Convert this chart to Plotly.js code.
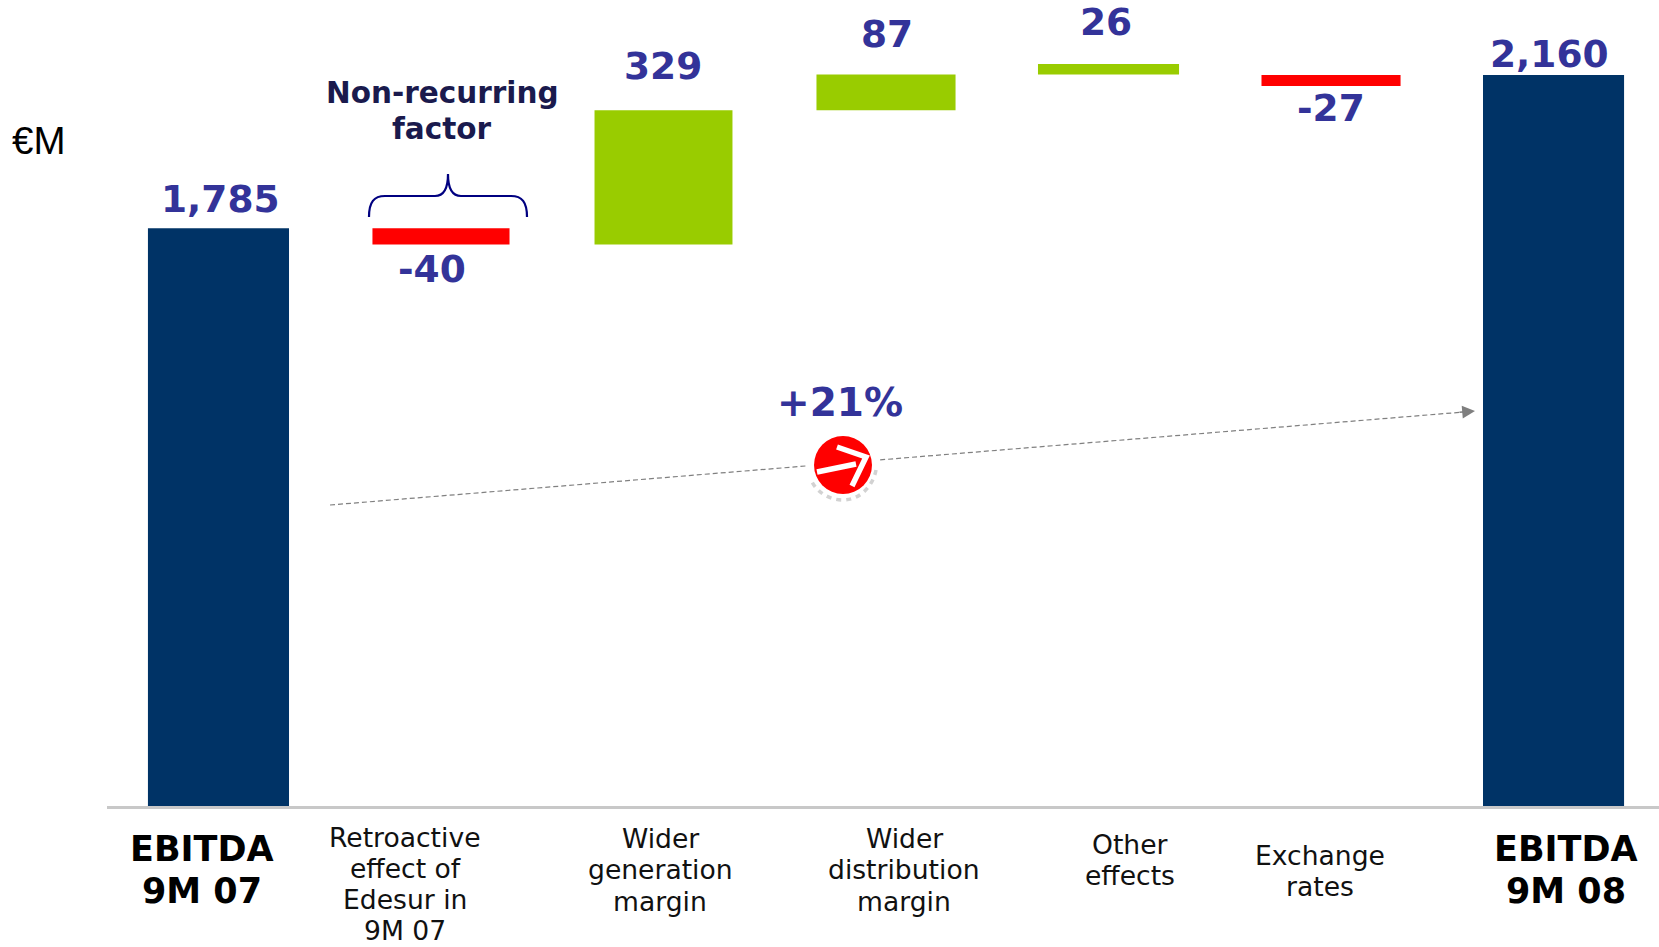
<!DOCTYPE html>
<html><head><meta charset="utf-8">
<script src="https://cdn.plot.ly/plotly-3.0.1.min.js"></script>
<style>html,body{margin:0;padding:0;background:#fff;overflow:hidden}</style>
</head><body><div id="chart" style="width:1659px;height:947px"></div>
<script>
// ---- data ----
const categories = ["EBITDA 9M 07","Retroactive effect of Edesur in 9M 07","Wider generation margin","Wider distribution margin","Other effects","Exchange rates","EBITDA 9M 08"];
const values = [1785,-40,329,87,26,-27,2160];
const bases = [0,1785,1745,2074,2161,2160,0];
const barColors = ["#003366","#FF0000","#99CC00","#99CC00","#99CC00","#FF0000","#003366"];
const valueLabels = ["1,785","-40","329","87","26","-27","2,160"];
const tickLines = [["EBITDA","9M 07"],["Retroactive","effect of","Edesur in","9M 07"],["Wider","generation","margin"],["Wider","distribution","margin"],["Other","effects"],["Exchange","rates"],["EBITDA","9M 08"]];
const growth = "+21%";
const unit = "€M";
const noteLines = ["Non-recurring","factor"];

// ---- placement in page pixels ----
const W = 1659, H = 947;
const px = x => x / W, py = y => 1 - y / H;
const valuePos = [[220,199],[432,269],[663,66],[887,34],[1106,22],[1331,108],[1549,54]];
const tickPos = [[202,849],[405,837],[660,838],[904,838],[1130,844],[1320,855],[1566,849]];
const FONT = "DejaVu Sans, Verdana, sans-serif";
const ann = (text,x,y,font) => ({text,x:px(x),y:py(y),xref:"paper",yref:"paper",xanchor:"center",yanchor:"middle",showarrow:false,font,align:"center"});
const annotations = [];
valueLabels.forEach((t,i)=>annotations.push(ann(t,valuePos[i][0],valuePos[i][1],{family:FONT,size:37.5,color:"#333399",weight:700})));
tickLines.forEach((lines,i)=>{
  const bold = i===0||i===6;
  const gap = bold ? 42 : (lines.length===4 ? 31 : 31.8);
  lines.forEach((t,j)=>annotations.push(ann(t,tickPos[i][0],tickPos[i][1]+j*gap,
    bold?{family:FONT,size:35,color:"#000",weight:700}:{family:FONT,size:26.6,color:"#111"})));
});
annotations.push(ann(unit,38,141,{family:"Liberation Sans, Arial, sans-serif",size:38.5,color:"#000"}));
noteLines.forEach((t,j)=>annotations.push(ann(t,442,93+j*36,{family:FONT,size:29.5,color:"#1a1a4d",weight:700})));
annotations.push(ann(growth,840,403,{family:FONT,size:39,color:"#333399",weight:700}));
annotations.push({x:px(1475),y:py(411),ax:px(1458),ay:py(412.4),xref:"paper",yref:"paper",axref:"paper",ayref:"paper",text:"",showarrow:true,arrowhead:2,arrowsize:1.6,arrowwidth:1.6,arrowcolor:"#7f7f7f"});

const P = (x,y)=>`${px(x)},${py(y)}`;
const shapes = [
  {type:"line",xref:"paper",yref:"paper",x0:px(330),y0:py(505),x1:px(1464),y1:py(412),line:{color:"#808080",width:1.2,dash:"5px,3px"}},
  {type:"circle",xref:"paper",yref:"paper",x0:px(806),x1:px(880),y0:py(431),y1:py(505),fillcolor:"#fff",line:{width:0}},
  {type:"path",xref:"paper",yref:"paper",path:`M${P(876,470)} C${P(873,486)} ${P(860,500)} ${P(843,500)} C${P(830,500)} ${P(818,493)} ${P(812,482)}`,line:{color:"#d2d2d2",width:3.5,dash:"5px,5px"},fillcolor:"rgba(0,0,0,0)"},
  {type:"circle",xref:"paper",yref:"paper",x0:px(814),x1:px(872),y0:py(436),y1:py(494),fillcolor:"#ff0000",line:{width:0}},
  {type:"path",xref:"paper",yref:"paper",path:`M${P(837,447)} L${P(866,457)} L${P(852,486)}`,line:{color:"#fff",width:5.5},fillcolor:"rgba(0,0,0,0)"},
  {type:"path",xref:"paper",yref:"paper",path:`M${P(817,472)} L${P(856,464)}`,line:{color:"#fff",width:5.5}},
  {type:"path",xref:"paper",yref:"paper",path:`M${P(369,217)} C${P(369,202)} ${P(374,196)} ${P(385,196)} L${P(435,196)} C${P(444,196)} ${P(448,188)} ${P(448,174)} C${P(448,188)} ${P(452,196)} ${P(461,196)} L${P(511,196)} C${P(522,196)} ${P(527,202)} ${P(527,217)}`,line:{color:"#000080",width:2.2},fillcolor:"rgba(0,0,0,0)"}
];

Plotly.newPlot("chart",[{
  type:"bar",x:categories,y:values,base:bases,
  width:[.634,.616,.62,.625,.634,.625,.634],
  marker:{color:barColors,line:{width:0}},
  textposition:"none",hoverinfo:"skip"
}],{
  width:W,height:H,margin:{l:0,r:0,t:0,b:0},paper_bgcolor:"#fff",plot_bgcolor:"#fff",showlegend:false,
  xaxis:{domain:[107/W,1],type:"category",range:[-0.501,6.474],showticklabels:false,ticks:"",showgrid:false,zeroline:false,showline:true,linecolor:"#c8c8c8",linewidth:2.5},
  yaxis:{domain:[py(806),1],range:[371.4,2343.5],visible:false,showgrid:false,zeroline:false},
  annotations,shapes
},{displayModeBar:false,staticPlot:true});
</script></body></html>
